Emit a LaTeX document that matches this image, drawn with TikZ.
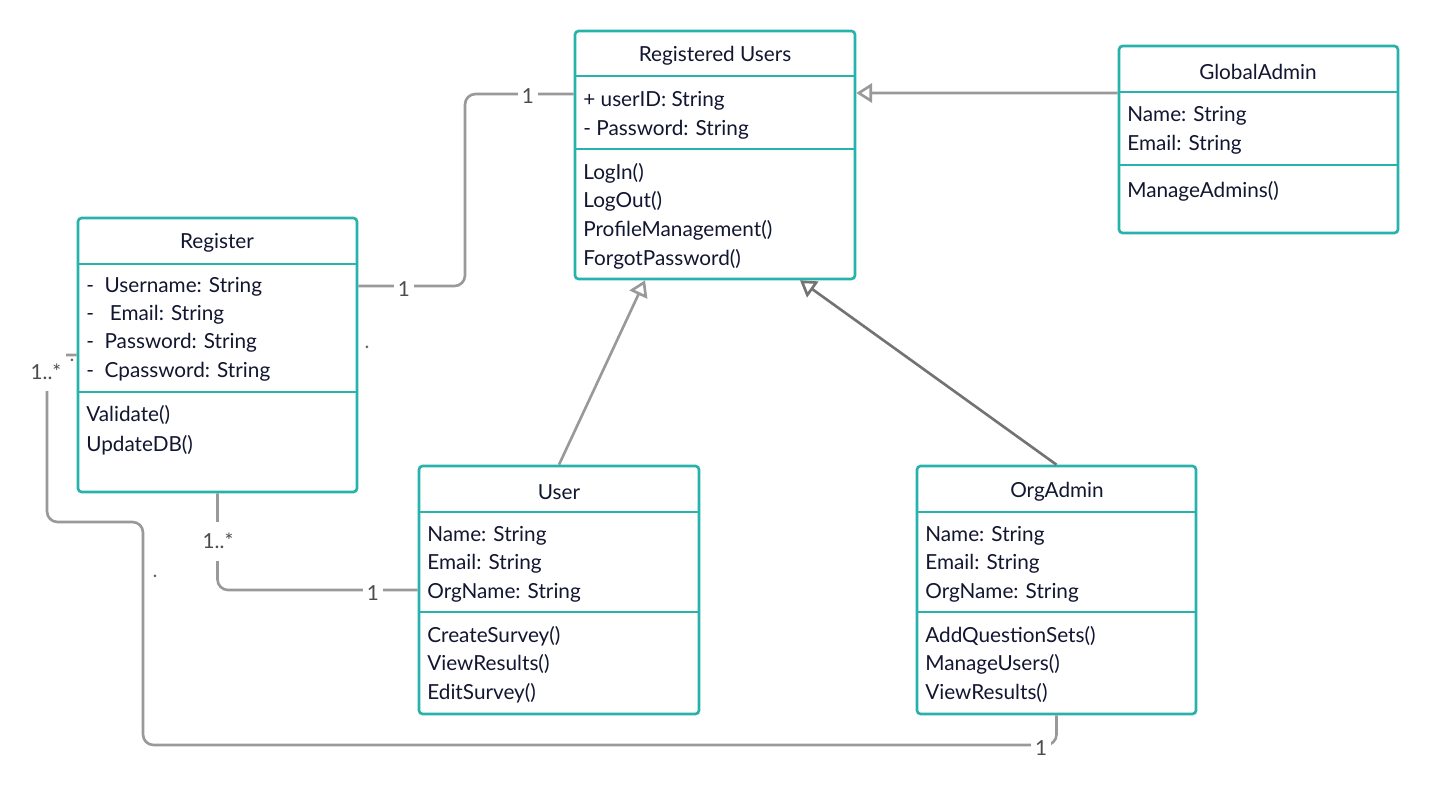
\documentclass[tikz,border=0pt]{standalone}
\usepackage{fontspec}
\setmainfont{Lato}
\usetikzlibrary{arrows.meta,positioning}
\definecolor{umlteal}{RGB}{40,178,172}
\definecolor{umltext}{RGB}{18,22,48}
\newcommand\umlfont{\fontsize{11.8}{13}\selectfont}

\begin{document}
\begin{tikzpicture}[x=0.02cm,y=-0.02cm,
 cls/.style={draw=umlteal,line width=1.5pt,rounded corners=2pt,fill=white,minimum width=5.6cm,minimum height=4.96cm,inner sep=0pt},
 sep/.style={draw=umlteal,line width=1.5pt},
 ttl/.style={font=\umlfont,text=umltext},
 item/.style={anchor=west,font=\umlfont,text=umltext,inner sep=0pt},
 assoc/.style={draw=black!40,line width=1.5pt,rounded corners=6pt},
 gen/.style={draw=black!40,line width=1.5pt,-{Triangle[open,length=9pt,width=11pt]}},
 mult/.style={fill=white,text=black!70,font=\umlfont,inner sep=2.5pt},
 stray/.style={text=black!60,font=\umlfont,inner sep=0pt}]
\useasboundingbox (0,0) rectangle (1430,792);
% classes
\node[cls] (ru) at (715,155) {};
\draw[sep] (ru.west |- 0,76) -- (ru.east |- 0,76);
\draw[sep] (ru.west |- 0,149) -- (ru.east |- 0,149);
\node[ttl] (ruT) at (715,56) {Registered Users};
\node[item] (ruA1) at (583,101) {+ userID: String};
\node[item] (ruA2) at (583,130) {- Password: String};
\node[item] (ruM1) at (583,173) {LogIn()};
\node[item] (ruM2) at (583,201) {LogOut()};
\node[item] (ruM3) at (583,230) {ProfileManagement()};
\node[item] (ruM4) at (583,259) {ForgotPassword()};

\node[cls,minimum width=5.58cm,minimum height=3.74cm] (ga) at (1258.5,139.5) {};
\draw[sep] (ga.west |- 0,92) -- (ga.east |- 0,92);
\draw[sep] (ga.west |- 0,165) -- (ga.east |- 0,165);
\node[ttl] (gaT) at (1258,72) {GlobalAdmin};
\node[item] (gaA1) at (1127,116) {Name: String};
\node[item] (gaA2) at (1127,145) {Email: String};
\node[item] (gaM1) at (1127,191) {ManageAdmins()};

\node[cls,minimum width=5.58cm,minimum height=5.48cm] (reg) at (217.5,355) {};
\draw[sep] (reg.west |- 0,264) -- (reg.east |- 0,264);
\draw[sep] (reg.west |- 0,392) -- (reg.east |- 0,392);
\node[ttl] (regT) at (217,243) {Register};
\node[item] (regA1) at (86,287) {-\hspace{6pt}Username: String};
\node[item] (regA2) at (86,315) {-\hspace{9pt}Email: String};
\node[item] (regA3) at (86,343) {-\hspace{6pt}Password: String};
\node[item] (regA4) at (86,372) {-\hspace{6pt}Cpassword: String};
\node[item] (regM1) at (86,415) {Validate()};
\node[item] (regM2) at (86,445) {UpdateDB()};

\node[cls] (usr) at (559,590) {};
\draw[sep] (usr.west |- 0,512) -- (usr.east |- 0,512);
\draw[sep] (usr.west |- 0,612) -- (usr.east |- 0,612);
\node[ttl] (usrT) at (559,492) {User};
\node[item] (usrA1) at (427,536) {Name: String};
\node[item] (usrA2) at (427,564) {Email: String};
\node[item] (usrA3) at (427,593) {OrgName: String};
\node[item] (usrM1) at (427,636) {CreateSurvey()};
\node[item] (usrM2) at (427,664) {ViewResults()};
\node[item] (usrM3) at (427,693) {EditSurvey()};

\node[cls,minimum width=5.58cm] (org) at (1056.5,590) {};
\draw[sep] (org.west |- 0,512) -- (org.east |- 0,512);
\draw[sep] (org.west |- 0,612) -- (org.east |- 0,612);
\node[ttl] (orgT) at (1057,492) {OrgAdmin};
\node[item] (orgA1) at (925,536) {Name: String};
\node[item] (orgA2) at (925,564) {Email: String};
\node[item] (orgA3) at (925,593) {OrgName: String};
\node[item] (orgM1) at (925,636) {AddQuestionSets()};
\node[item] (orgM2) at (925,664) {ManageUsers()};
\node[item] (orgM3) at (925,693) {ViewResults()};
% connectors
\draw[assoc] ([yshift=1.38cm]reg.east) -| (465,190) |- ([yshift=1.22cm]ru.west);
\draw[gen] ([yshift=0.93cm]ga.west) -- ([yshift=1.24cm]ru.east);
\draw[gen] (usr.north) -- ([xshift=-1.4cm]ru.south);
\draw[gen,draw=black!55] (org.north) -- ([xshift=1.7cm]ru.south);
\draw[assoc] (reg.south) |- (usr.west);
\draw[assoc] (reg.west) -| (47,522) -| (143,745) -| (org.south);
% multiplicities
\node[mult] (mRegRu) at (404,289) {1};
\node[mult] (mRuReg) at (528,96) {1};
\node[mult,minimum height=0.78cm] (mRegUsr) at (218,541) {1..*};
\node[mult] (mUsrReg) at (373,593) {1};
\node[mult,minimum width=0.8cm,minimum height=0.76cm] (mRegOrg) at (46,372) {1..*};
\node[mult] (mOrgReg) at (1041,748) {1};
\node[stray] (s1) at (367,347) {.};
\node[stray] (s2) at (72,360) {.};
\node[stray] (s3) at (155,576) {.};
\end{tikzpicture}
\end{document}
